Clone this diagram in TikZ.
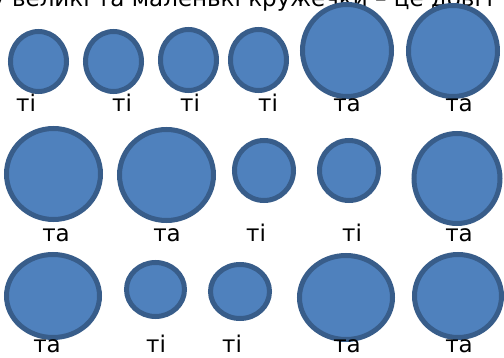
\documentclass[tikz,border=0pt]{standalone}
\usepackage{fontspec}
\setmainfont{DejaVu Sans}
\usepackage{xcolor}
\usetikzlibrary{shapes.geometric}

\definecolor{dotfill}{HTML}{4F81BD}
\definecolor{dotline}{HTML}{385D8A}

\begin{document}
\begin{tikzpicture}[x=1pt, y=-1pt,
		dot/.style={ellipse, draw=dotline, fill=dotfill, line width=5pt, inner sep=0pt},
		lbl/.style={anchor=base, font=\fontsize{23}{25}\selectfont, inner sep=0pt}]
		\useasboundingbox (0,0) rectangle (504,358);
		\clip (0,0) rectangle (504,358);
		\node[anchor=base west, font=\fontsize{23}{25}\selectfont, inner sep=0pt] (title) at (-9,7) {у великі та маленькі кружечки – це довгі};
		% row 1
		\node[dot, minimum width=56pt, minimum height=60pt] (d11) at (38.5,61.5) {};
		\node[dot, minimum width=56pt, minimum height=60pt] (d12) at (113.5,61.5) {};
		\node[dot, minimum width=56pt, minimum height=61pt] (d13) at (188.5,60) {};
		\node[dot, minimum width=56pt, minimum height=61pt] (d14) at (258.5,60) {};
		\node[dot, minimum width=89pt, minimum height=92pt] (d15) at (347,50.5) {};
		\node[dot, minimum width=89pt, minimum height=91pt] (d16) at (453,51) {};
		\node[lbl] (t11) at (26,112) {ті};
		\node[lbl] (t12) at (122,112) {ті};
		\node[lbl] (t13) at (190,112) {ті};
		\node[lbl] (t14) at (268,112) {ті};
		\node[lbl] (t15) at (347,112) {та};
		\node[lbl] (t16) at (459,112) {та};
		% row 2
		\node[dot, minimum width=94pt, minimum height=91pt] (d21) at (53.5,174) {};
		\node[dot, minimum width=94pt, minimum height=91pt] (d22) at (166.5,175) {};
		\node[dot, minimum width=59pt, minimum height=60pt] (d23) at (264,170.5) {};
		\node[dot, minimum width=59pt, minimum height=60pt] (d24) at (349,170.5) {};
		\node[dot, minimum width=86pt, minimum height=90pt] (d25) at (457,178.5) {};
		\node[lbl] (t21) at (56,242) {та};
		\node[lbl] (t22) at (167,242) {та};
		\node[lbl] (t23) at (256,242) {ті};
		\node[lbl] (t24) at (352,242) {ті};
		\node[lbl] (t25) at (459,242) {та};
		% row 3
		\node[dot, minimum width=93pt, minimum height=83pt] (d31) at (53,296) {};
		\node[dot, minimum width=58pt, minimum height=54pt] (d32) at (155.5,289.5) {};
		\node[dot, minimum width=59pt, minimum height=54pt] (d33) at (240,291.5) {};
		\node[dot, minimum width=93pt, minimum height=84pt] (d34) at (346,297.5) {};
		\node[dot, minimum width=87pt, minimum height=83pt] (d35) at (458,296) {};
		\node[lbl] (t31) at (47,353) {та};
		\node[lbl] (t32) at (156,353) {ті};
		\node[lbl] (t33) at (232,353) {ті};
		\node[lbl] (t34) at (347,353) {та};
		\node[lbl] (t35) at (459,353) {та};
	\end{tikzpicture}
\end{document}
